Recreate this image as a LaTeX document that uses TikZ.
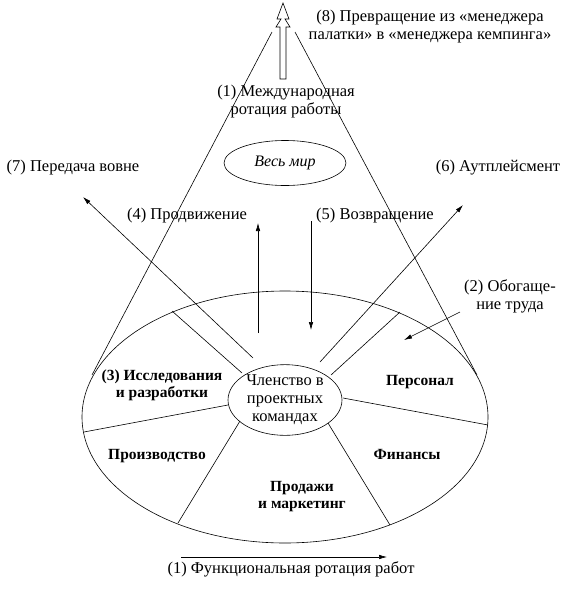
\documentclass[tikz,border=0pt]{standalone}
\usepackage{fontspec}
\setmainfont{Liberation Serif}
\usetikzlibrary{shapes.geometric,arrows.meta}

\begin{document}
\begin{tikzpicture}[x=1pt,y=-1pt,line width=0.6pt]
\tikzstyle{every node}+=[inner sep=0pt, align=center, font=\fontsize{16.5}{18}\selectfont]
\tikzstyle{dept}=[font=\fontsize{15.5}{17}\selectfont\bfseries]
\tikzstyle{move}=[-{Latex[length=8pt,width=4.5pt]}]
\useasboundingbox (0,0) rectangle (565,590);
% cone up to the world
\coordinate (coneLtop) at (272,32);
\coordinate (coneLbot) at (92,375);
\coordinate (coneRtop) at (295,32);
\coordinate (coneRbot) at (477,375);
\draw [black] (coneLtop) -- (coneLbot);
\draw [black] (coneRtop) -- (coneRbot);
\node [draw, ellipse, minimum width=122, minimum height=45, font=\fontsize{16}{18}\selectfont\itshape] (world) at (285,163) {Весь мир};
% hollow arrow at the top
\draw [black] (280,79) -- (280,27) -- (276,27) -- (281,19) -- (277,19) -- (283,3) -- (289,19) -- (285,19) -- (290,27) -- (286,27) -- (286,79) -- cycle;
\node (turn) at (430,27) {(8) Превращение из «менеджера\\палатки» в «менеджера кемпинга»};
\node (intl) at (286,102) {(1) Международная\\ротация работы};
% the firm
\node [draw, ellipse, minimum width=406, minimum height=252] (firm) at (285,417) {};
\node [draw, ellipse, minimum width=114, minimum height=66] (team) at (285,400) {Членство в\\проектных\\командах};
\coordinate (sp1a) at (242,373); \coordinate (sp1b) at (172,311);
\coordinate (sp2a) at (228,405); \coordinate (sp2b) at (84,432);
\coordinate (sp3a) at (240,421); \coordinate (sp3b) at (178,523);
\coordinate (sp4a) at (328,423); \coordinate (sp4b) at (390,525);
\coordinate (sp5a) at (343,398); \coordinate (sp5b) at (488,425);
\coordinate (sp6a) at (331,375); \coordinate (sp6b) at (400,312);
\draw [black] (sp1a) -- (sp1b);
\draw [black] (sp2a) -- (sp2b);
\draw [black] (sp3a) -- (sp3b);
\draw [black] (sp4a) -- (sp4b);
\draw [black] (sp5a) -- (sp5b);
\draw [black] (sp6a) -- (sp6b);
\node [dept] (rnd) at (162,385) {(3) Исследования\\и разработки};
\node [dept] (hr) at (420,382) {Персонал};
\node [dept] (prod) at (157,456) {Производство};
\node [dept] (fin) at (407,454) {Финансы};
\node [dept] (sales) at (302,497) {Продажи\\и маркетинг};
% moves out of the firm
\node (transfer) at (73,168) {(7) Передача вовне};
\node (outpl) at (498,168) {(6) Аутплейсмент};
\node (promo) at (187,216) {(4) Продвижение};
\node (ret) at (375,216) {(5) Возвращение};
\node (enrich) at (510,296) {(2) Обогаще-\\ние труда};
\node (func) at (291,569) {(1) Функциональная ротация работ};
\coordinate (trS) at (253,358); \coordinate (trE) at (83,197);
\coordinate (opS) at (320,362); \coordinate (opE) at (463,205);
\coordinate (prS) at (258,333); \coordinate (prE) at (258,223);
\coordinate (reS) at (311,221); \coordinate (reE) at (311,330);
\coordinate (enS) at (460,312); \coordinate (enE) at (404,340);
\coordinate (fuS) at (181,557); \coordinate (fuE) at (387,557);
\draw [move] (trS) -- (trE);
\draw [move] (opS) -- (opE);
\draw [move] (prS) -- (prE);
\draw [move] (reS) -- (reE);
\draw [move] (enS) -- (enE);
\draw [move] (fuS) -- (fuE);
\end{tikzpicture}
\end{document}
